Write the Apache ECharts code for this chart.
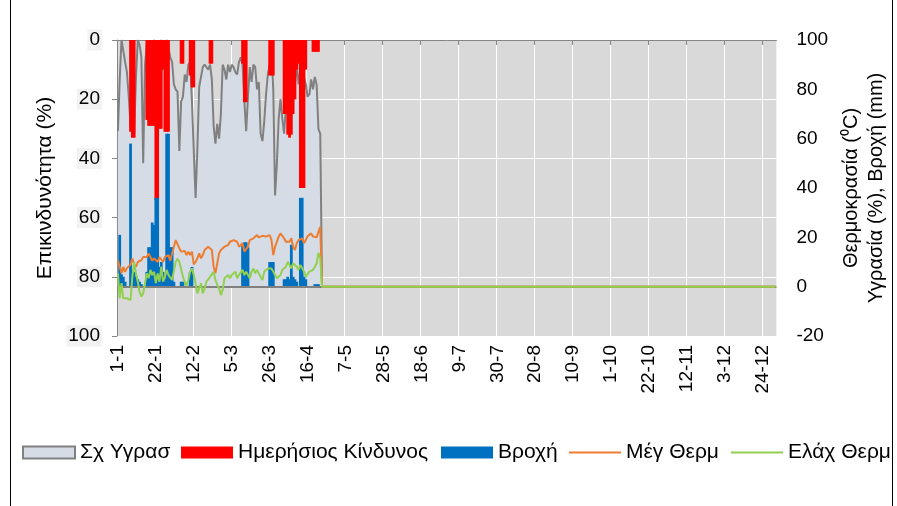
<!DOCTYPE html>
<html><head><meta charset="utf-8">
<script src="https://cdn.jsdelivr.net/npm/echarts@6/dist/echarts.min.js"></script>
<style>html,body{margin:0;padding:0;background:#fff}#c{width:897px;height:506px}</style>
</head><body><div id="c"></div>
<script>
const YEAR = 2021;
const NDAYS = 365;
const FONT = 'Liberation Sans, Arial, sans-serif';

// x tick labels (every 21 days)
const tickLabels = ['1-1','22-1','12-2','5-3','26-3','16-4','7-5','28-5','18-6','9-7','30-7','20-8','10-9','1-10','22-10','12-11','3-12','24-12'];

// Σχ Υγρασ (%), day 0..112
const humidity = [63,84,100,100,91,87,77,65,63,62, 85,100,98,93,50,90,98,96,94,97,
 100,98,95,97,100,96,98,100,97,93, 91,82,80,79,55,75,77,86,83,90,
 91,75,55,36,56,81,85,89,90,89, 88,90,84,65,58,66,60,70,90,88,
 84,90,87,90,89,87,86,91,93,90, 75,63,77,89,83,90,89,80,83,62,
 59,67,78,86,90,95,80,37,50,68, 76,68,62,73,83,72,70,80,82,90,
 82,88,90,85,82,77,78,84,80,85, 82,64,62];

// Μέγ Θερμ (°C)
const maxTemp = [10.6,11,5.5,8,6,7.5,7,9,11.5,9, 8,10,9.5,10.8,12,11.5,12,13.5,12.8,10.5,
 11.5,11.5,10,12,11,10,12,11.5,12.8,10.5, 13.5,16.2,18.9,18.2,15.6,14.2,14.9,14.5,12.8,14.2,
 12.8,14.2,9,10,11.5,13.5,11.5,12.8,14.9,15.6, 16.2,16.9,14.9,8,5.5,9.5,13.5,14.9,14.9,16.2,
 16.5,16.9,18.2,18.5,18.9,19.6,18.2,16.2,17,17.6, 14.2,13.5,16.2,18.9,18.2,19.6,20.3,20.9,20,20.3,
 20.6,21.2,20.3,20.6,20.9,19,12.8,16.2,18.2,20.3, 21.6,20.9,19.6,18.2,17.6,18.2,19.6,16.2,14.9,17.6,
 18.9,18.2,19.6,17.6,18.9,20.5,21.2,21.6,20.3,20.9, 20,20.3,24.3];

// Ελάχ Θερμ (°C)
const minTemp = [5.4,-4.7,1.4,-4.7,-4,-4.7,-5.4,-5.4,4,10, 5.4,2,-2,-4,-2.7,1.4,5.4,3.4,6.8,4.7,
 6.1,1.4,5.4,2,8.1,2,4,6.8,4.7,4, 2.7,3.4,10.1,11.3,10.1,10.1,4,2,0.3,2.7,
 6.1,7.4,4.7,1.4,-2.7,-2,1.4,-2.7,-0.7,2, 2.7,4,4.7,6,2.7,0.7,-0.7,-3.4,-1.3,3.4,
 2.7,4.7,3.4,4.7,5.4,6.1,3.4,4.7,5.8,6.8, 4.7,6.1,5.4,3.4,6.1,7.4,5.4,6.8,5.4,4,
 2.7,6.1,6.8,7.4,8.1,7.4,6.1,4.7,3.4,2.7, 4.7,6.8,7.4,8.1,10.1,8.8,7.4,9.5,8.8,8.1,
 6.8,8.8,8.1,6.1,4,4.7,6.1,6.5,6.8,8.1, 9.5,13.7,11.5];

// Ημερήσιος Κίνδυνος (%)
const risk = [0,0,0,0,0,0,0,31,33,33, 0,0,0,0,0,0,27,29,29,29,
 29,54,54,30,30,10,31,31,31,0, 0,0,0,0,0,8,8,0,0,0,
 12,16,16,0,0,0,0,0,0,0, 0,8,8,0,0,0,0,0,0,0,
 0,0,0,0,0,0,0,0,0,8, 21,21,0,0,0,0,0,0,0,0,
 0,0,0,0,12,12,12,0,0,0, 0,0,25,25,32,33,32,25,20,10,
 8,50,50,50,10,0,0,0,4,4, 4,4,0];

// Βροχή (mm)
const rain = [0,21,5,4,2,0,0,58,6,6, 4,3,2,1,0,0,6,16,16,26,
 25,36,36,8,10,6,3,62,62,16, 16,2,0,0,0,2,2,0,0,0,
 6,8,0,0,0,0,0,0,0,0, 0,0,0,0,0,0,0,0,0,0,
 0,0,0,0,0,0,0,0,0,17, 18,18,16,0,0,0,0,0,0,0,
 0,0,0,0,10,10,10,0,0,0, 0,0,3,3,4,3,17,4,3,2,
 0,36,36,4,3,0,0,0,0,1, 1,1,0];

const categories = [];
for (let i = 0; i < NDAYS; i++) {
  const dt = new Date(Date.UTC(YEAR, 0, 1 + i));
  categories.push(dt.getUTCDate() + '-' + (dt.getUTCMonth() + 1));
}
function padZero(a) { const r = a.slice(); while (r.length < NDAYS) r.push(0); return r; }
function bars(a) { return a.map(v => v > 0 ? v : '-'); }

const C_HUM_FILL = '#d6dce5', C_HUM_LINE = '#808080', C_RED = '#ff0000', C_BLUE = '#0070c0', C_ORANGE = '#ed7d31', C_GREEN = '#92d050';
const txt = { fontFamily: FONT, fontSize: 21, color: '#000' };

const chart = echarts.init(document.getElementById('c'), null, { renderer: 'canvas' });
const legendBase = { top: 442, itemWidth: 52, itemHeight: 12, icon: 'rect', textStyle: txt, padding: 0, selectedMode: false };
chart.setOption({
  animation: false,
  backgroundColor: '#fff',
  grid: { left: 117, right: 120, top: 40, bottom: 170, show: true, backgroundColor: '#d9d9d9', borderWidth: 0 },
  legend: [
    Object.assign({}, legendBase, { left: 22, data: [{ name: 'Σχ Υγρασ', itemStyle: { color: C_HUM_FILL, borderColor: C_HUM_LINE, borderWidth: 2 } }] }),
    Object.assign({}, legendBase, { left: 181, data: ['Ημερήσιος Κίνδυνος'] }),
    Object.assign({}, legendBase, { left: 441, data: ['Βροχή'] }),
    Object.assign({}, legendBase, { left: 569, itemHeight: 2, data: ['Μέγ Θερμ'] }),
    Object.assign({}, legendBase, { left: 731, itemHeight: 2, data: ['Ελάχ Θερμ'] })
  ],
  xAxis: {
    type: 'category', data: categories, boundaryGap: true,
    axisLine: { show: true, lineStyle: { color: '#868686', width: 1 } },
    axisTick: { show: true, interval: 20, length: 5, lineStyle: { color: '#868686' } },
    axisLabel: { interval: 20, rotate: 90, fontFamily: FONT, fontSize: 19, color: '#000', margin: 9 },
    splitLine: { show: true, interval: 20, lineStyle: { color: '#ffffff', width: 1 } }
  },
  yAxis: [
    {
      type: 'value', min: 0, max: 100, interval: 20, inverse: true, position: 'left',
      name: 'Επικινδυνότητα (%)', nameLocation: 'middle', nameRotate: 90, nameGap: 60,
      nameTextStyle: Object.assign({}, txt, { fontSize: 21 }),
      axisLine: { show: true, lineStyle: { color: '#868686', width: 1 } },
      axisTick: { show: true, length: 5, lineStyle: { color: '#868686' } },
      axisLabel: { fontFamily: FONT, fontSize: 19, color: '#000', margin: 15, backgroundColor: '#f2f2f2', padding: [1, 2] },
      splitLine: { show: true, lineStyle: { color: '#ffffff', width: 1 } }
    },
    {
      type: 'value', min: -20, max: 100, interval: 20, position: 'right',
      name: 'Θερμοκρασία (⁰C)\nΥγρασία (%), Βροχή (mm)', nameLocation: 'middle', nameRotate: 90, nameGap: 60,
      nameTextStyle: Object.assign({}, txt, { fontSize: 20, lineHeight: 25 }),
      axisLine: { show: false }, axisTick: { show: false },
      axisLabel: { fontFamily: FONT, fontSize: 19, color: '#000', margin: 20 },
      splitLine: { show: false }
    }
  ],
  series: [
    {
      name: 'Σχ Υγρασ', type: 'line', yAxisIndex: 1, data: padZero(humidity), symbol: 'none', z: 1,
      itemStyle: { color: C_HUM_FILL, borderColor: C_HUM_LINE },
      lineStyle: { color: C_HUM_LINE, width: 2 }, areaStyle: { color: C_HUM_FILL, opacity: 1 },
      markLine: { silent: true, symbol: 'none', label: { show: false }, lineStyle: { color: C_HUM_LINE, width: 2, type: 'solid' }, data: [{ yAxis: 0 }] }
    },
    { name: 'Ημερήσιος Κίνδυνος', type: 'bar', yAxisIndex: 0, data: bars(risk), z: 3, itemStyle: { color: C_RED }, barWidth: 2.8, barGap: '-100%' },
    { name: 'Βροχή', type: 'bar', yAxisIndex: 1, data: bars(rain), z: 4, itemStyle: { color: C_BLUE }, barWidth: 2.8, barGap: '-100%' },
    { name: 'Μέγ Θερμ', type: 'line', yAxisIndex: 1, data: padZero(maxTemp), symbol: 'none', z: 5, itemStyle: { color: C_ORANGE }, lineStyle: { color: C_ORANGE, width: 2 } },
    { name: 'Ελάχ Θερμ', type: 'line', yAxisIndex: 1, data: padZero(minTemp), symbol: 'none', z: 6, itemStyle: { color: C_GREEN }, lineStyle: { color: C_GREEN, width: 2 } }
  ],
  graphic: [
    { type: 'line', shape: { x1: 10.5, y1: 0, x2: 10.5, y2: 506 }, style: { stroke: '#000', lineWidth: 1 } },
    { type: 'line', shape: { x1: 892.5, y1: 0, x2: 892.5, y2: 506 }, style: { stroke: '#000', lineWidth: 1 } }
  ]
});
</script></body></html>
